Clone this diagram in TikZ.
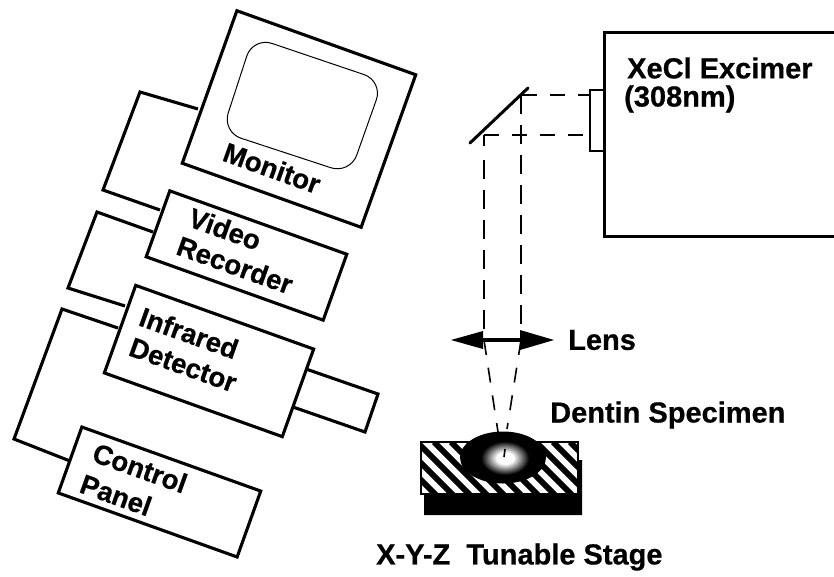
\documentclass[tikz,border=0pt]{standalone}
\usepackage{fontspec}
\setmainfont[BoldFeatures={FakeBold=0.6}]{Liberation Sans}
\usetikzlibrary{arrows.meta,calc}
\pgfdeclareradialshading{glowball}{\pgfpointorigin}{color(0bp)=(white); color(7bp)=(white); color(20bp)=(black); color(50bp)=(black)}
\tikzset{
  unitbox/.style={draw=black,line width=3.1pt,rotate=-19.7,inner sep=0pt,line join=miter,fill=white},
  wire/.style={draw=black,line width=3.1pt,line join=miter},
  lab/.style={font=\fontsize{29}{31}\selectfont\bfseries,inner sep=0pt,text=black},
  tilt/.style={lab,font=\fontsize{27.5}{29}\selectfont\bfseries,rotate=-19.7},
  beam/.style={draw=black,line width=1.6pt,dash pattern=on 15pt off 13pt},
  vbeam/.style={draw=black,line width=1.6pt,dash pattern=on 19pt off 11pt},
  cbeam/.style={draw=black,line width=1.6pt,dash pattern=on 15pt off 13pt},
  frame/.style={draw=black,line width=3pt}
}
\begin{document}
\begin{tikzpicture}[x=1pt,y=-1pt]
\useasboundingbox (0,0) rectangle (834,576);
% connector end points
\coordinate (w1a) at (198,109); \coordinate (w1b) at (140,92); \coordinate (w1c) at (103,190); \coordinate (w1d) at (160,210);
\coordinate (w2a) at (153,232); \coordinate (w2b) at (97,212); \coordinate (w2c) at (68,288); \coordinate (w2d) at (125,306);
\coordinate (w3a) at (118,328); \coordinate (w3b) at (62,309); \coordinate (w3c) at (14,439); \coordinate (w3d) at (70,461);
\coordinate (s1) at (306,369); \coordinate (s2) at (378,394); \coordinate (s3) at (365,432); \coordinate (s4) at (293,407);
\draw[wire] (w1a)--(w1b)--(w1c)--(w1d);
\draw[wire] (w2a)--(w2b)--(w2c)--(w2d);
\draw[wire] (w3a)--(w3b)--(w3c)--(w3d);
\draw[wire] (s1)--(s2)--(s3)--(s4);
% units
\node[unitbox,minimum width=190pt,minimum height=162pt] (monitor) at (299,119) {};
\node[unitbox,minimum width=188pt,minimum height=70pt] (recorder) at (246.5,255.5) {};
\node[unitbox,minimum width=189pt,minimum height=93pt] (detector) at (209,361) {};
\node[unitbox,minimum width=190pt,minimum height=70pt] (panel) at (159.5,492) {};
% screen
\draw[line width=1pt,rounded corners=20pt] (253,37)--(383,81)--(350,174)--(222,132)--cycle;
\node[tilt] (tm) at (272,168) {Monitor};
\node[tilt] (t1) at (225,229) {Video};
\node[tilt] (t2) at (235,265) {Recorder};
\node[tilt] (t3) at (189,333) {Infrared};
\node[tilt] (t4) at (183,365) {Detector};
\node[tilt] (t5) at (140,468) {Control};
\node[tilt] (t6) at (116,495) {Panel};
% laser
\coordinate (l1) at (834,32); \coordinate (l2) at (604.5,32); \coordinate (l3) at (604.5,236); \coordinate (l4) at (834,236);
\draw[frame] (l1)--(l2)--(l3)--(l4);
\draw[draw=black,line width=2.4pt] (604,90)--(590,90)--(590,151)--(604,151);
\node[lab,anchor=west] (xe) at (627,68) {XeCl Excimer};
\node[lab,anchor=west] (nm) at (624,99) {(308nm)};
% mirror
\coordinate (m1) at (470,143); \coordinate (m2) at (528,88);
\draw[line width=3pt,line cap=round] (m1)--(m2);
% beams
\coordinate (b1) at (522,95); \coordinate (b2) at (590,95);
\coordinate (b3) at (484,135); \coordinate (b4) at (590,135);
\coordinate (v1) at (484,160); \coordinate (v2) at (484,340);
\coordinate (v3) at (521,95); \coordinate (v4) at (521,340);
\coordinate (c1) at (498,432); \coordinate (c2) at (507,429);
\draw[beam] (b1)--(b2);
\draw[beam] (b3)--(b4);
\draw[line width=1.6pt] (484,135)--(484,146);
\draw[vbeam] (v1)--(v2);
\draw[vbeam] (v3)--(v4);
\draw[cbeam] (v2)--(c1);
\draw[cbeam] (v4)--(c2);
% lens
\coordinate (la) at (451,340); \coordinate (lb) at (554,340);
\draw[line width=4.5pt] (483,340)--(520,340);
\fill[black] (la)--(483,331)--(483,349)--cycle;
\fill[black] (lb)--(520,330)--(520,350)--cycle;
\node[lab,anchor=west] (lens) at (568,340) {Lens};
% stage
\fill[black] (424,490)--(578,460)--(582,460)--(582,515)--(424,515)--cycle;
\fill[white] (421,442) rectangle (578,494);
\begin{scope}
\clip (421,442) rectangle (578,494);
\foreach \k in {-4,...,12}{
  \draw[line width=6pt] ({400+\k*17},442)--({460+\k*17},502);
}
\end{scope}
\draw[line width=2.4pt] (421,442) rectangle (578,494);
\coordinate (dc) at (503,457.5);
\fill[black] (dc) ellipse [x radius=43pt,y radius=26pt];
\shade[shading=glowball] (505,458) ellipse [x radius=30pt,y radius=21pt];
\draw[line width=1.6pt] (505,449)--(504,457);
\node[lab,anchor=west] (den) at (550,415) {Dentin Specimen};
\node[lab,anchor=west] (xyz) at (376,557) {X-Y-Z\ \ Tunable Stage};
\end{tikzpicture}
\end{document}
